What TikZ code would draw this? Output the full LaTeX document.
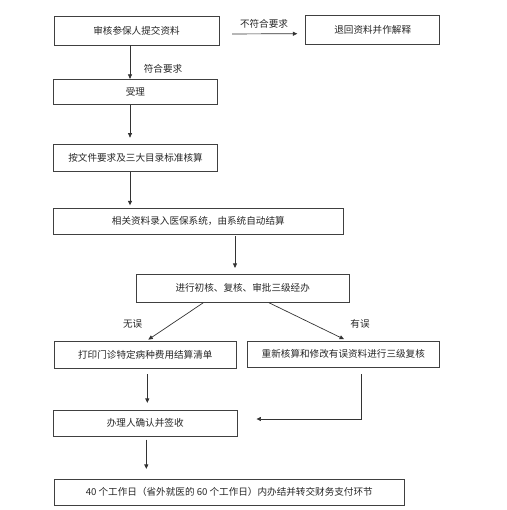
\documentclass[tikz,border=0pt]{standalone}
\usepackage{fontspec}
\newfontfamily\cjk{Noto Sans CJK SC}
\usetikzlibrary{arrows.meta,calc}
\begin{document}
\begin{tikzpicture}[x=1pt,y=-1pt,
  box/.style={draw=black!75,line width=0.8pt,inner sep=0pt,font=\cjk\fontsize{9.6}{11}\selectfont,text=black!85},
  lbl/.style={inner sep=0pt,font=\cjk\fontsize{9.6}{11}\selectfont,text=black!85},
  arr/.style={draw=black!80,line width=0.7pt,-{Triangle[length=4.5pt,width=4pt]}},
  ln/.style={draw=black!80,line width=0.7pt}]
\useasboundingbox (0,0) rectangle (506,510);
\node[box,minimum width=165pt,minimum height=29pt] (b1) at (136.5,30.6) {审核参保人提交资料};
\node[box,minimum width=134pt,minimum height=29pt] (b2) at (372.7,30.3) {退回资料并作解释};
\node[box,minimum width=163.3pt,minimum height=25.4pt] (b3) at (135.4,92) {受理};
\node[box,minimum width=163.6pt,minimum height=27.3pt] (b4) at (135.5,157.7) {按文件要求及三大目录标准核算};
\node[box,minimum width=290pt,minimum height=26pt] (b5) at (198.3,221.3) {相关资料录入医保系统，由系统自动结算};
\node[box,minimum width=212.7pt,minimum height=28.3pt] (b6) at (242.7,288.2) {进行初核、复核、审批三级经办};
\node[box,minimum width=182.7pt,minimum height=26.6pt] (b7) at (145.3,355) {打印门诊特定病种费用结算清单};
\node[box,minimum width=192.7pt,minimum height=26.7pt] (b8) at (343.3,354.3) {重新核算和修改有误资料进行三级复核};
\node[box,minimum width=183.7pt,minimum height=26pt] (b9) at (145.2,423) {办理人确认并签收};
\node[box,minimum width=350pt,minimum height=26pt] (b10) at (229.3,492.3) {40 个工作日（省外就医的 60 个工作日）内办结并转交财务支付环节};

\coordinate (x130) at (130,0);
\coordinate (x235) at (235,0);
\coordinate (x147) at (147.3,0);
\coordinate (x146) at (146.3,0);
\coordinate (x362) at (361.7,0);
\coordinate (y419) at (0,419);

\draw[arr,shorten <=12.7pt,shorten >=8pt] ([yshift=-3.4pt]b1.east) -- ([yshift=-3.4pt]b2.west);
\node[lbl] (l1) at (264,24) {不符合要求};
\draw[arr] (b1.south -| x130) -- (b3.north -| x130);
\node[lbl] (l2) at (163,69) {符合要求};
\draw[arr,shorten >=6pt] (b3.south -| x130) -- (b4.north -| x130);
\draw[arr,shorten >=2.6pt] (b4.south -| x130) -- (b5.north -| x130);
\draw[arr,shorten <=1.7pt,shorten >=5.7pt] (b5.south -| x235) -- (b6.north -| x235);
\draw[arr,shorten >=3pt] (b6.south -| 203.3,0) -- (b7.north -| 145.8,0);
\draw[arr,shorten >=3pt] (b6.south -| 269,0) -- (b8.north -| 346.8,0);
\node[lbl] (l3) at (132.7,324.3) {无误};
\node[lbl] (l4) at (360,324) {有误};
\draw[arr,shorten <=5.7pt,shorten >=6.7pt] (b7.south -| x147) -- (b9.north -| x147);
\draw[arr,shorten <=6.3pt,shorten >=19pt] (b8.south -| x362) |- (b9.east |- y419);
\draw[arr,shorten <=3.3pt,shorten >=10pt] (b9.south -| x146) -- (b10.north -| x146);
\end{tikzpicture}
\end{document}
